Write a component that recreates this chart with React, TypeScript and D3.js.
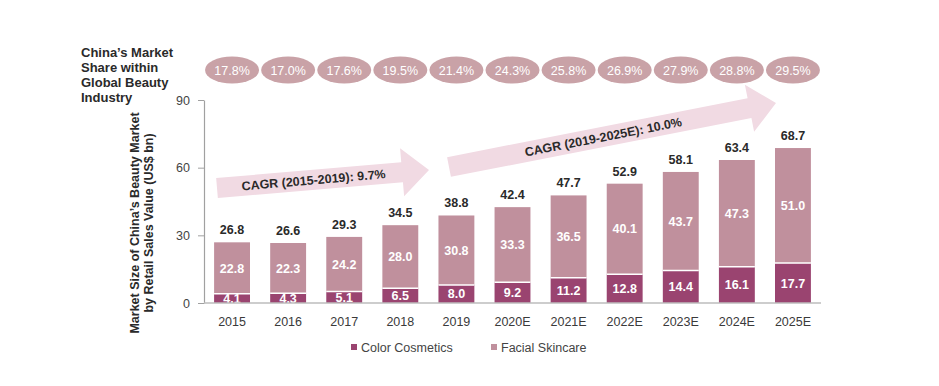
import { useEffect, useRef } from 'react'
import { axisLeft, scaleBand, scaleLinear, select } from 'd3'

const years = ['2015', '2016', '2017', '2018', '2019', '2020E', '2021E', '2022E', '2023E', '2024E', '2025E']
const colorCosmetics = [4.1, 4.3, 5.1, 6.5, 8.0, 9.2, 11.2, 12.8, 14.4, 16.1, 17.7]
const facialSkincare = [22.8, 22.3, 24.2, 28.0, 30.8, 33.3, 36.5, 40.1, 43.7, 47.3, 51.0]
const totals = [26.8, 26.6, 29.3, 34.5, 38.8, 42.4, 47.7, 52.9, 58.1, 63.4, 68.7]
const globalShare = ['17.8%', '17.0%', '17.6%', '19.5%', '21.4%', '24.3%', '25.8%', '26.9%', '27.9%', '28.8%', '29.5%']
const yTicks = [0, 30, 60, 90]
const cagrLabels = ['CAGR (2015-2019): 9.7%', 'CAGR (2019-2025E): 10.0%']

const DARK = '#9a4470'
const LIGHT = '#c0909d'
const PILL = '#c9a2a7'
const ARROW = '#f1dae3'
const FONT = 'Liberation Sans, Arial, Helvetica, sans-serif'

const width = 939
const height = 386
const margin = { left: 204, right: 118, top: 100, bottom: 83 }

export default function App() {
  const svgRef = useRef<SVGSVGElement | null>(null)

  useEffect(() => {
    document.body.style.margin = '0'
    if (!svgRef.current) return
    const svg = select(svgRef.current)
    svg.selectAll('*').remove()

    const x = scaleBand<string>()
      .domain(years)
      .range([margin.left, width - margin.right])
      .paddingInner(0.36)
      .paddingOuter(0.18)
    const y = scaleLinear().domain([0, 90]).range([height - margin.bottom, margin.top])

    // arrows
    const arrow = (x0: number, y0: number, x1: number, y1: number, label: string) => {
      const len = Math.hypot(x1 - x0, y1 - y0)
      const ang = (Math.atan2(y1 - y0, x1 - x0) * 180) / Math.PI
      const bw = 10
      const hw = 24
      const hl = 27
      const g = svg.append('g').attr('transform', `translate(${x0},${y0}) rotate(${ang})`)
      g.append('polygon')
        .attr(
          'points',
          [
            [0, -bw],
            [len - hl, -bw],
            [len - hl, -hw],
            [len, 0],
            [len - hl, hw],
            [len - hl, bw],
            [0, bw],
          ]
            .map(p => p.join(','))
            .join(' ')
        )
        .attr('fill', ARROW)
      g.append('text')
        .attr('x', (len - hl) / 2 + 4)
        .attr('y', 4.5)
        .attr('text-anchor', 'middle')
        .attr('font-family', FONT)
        .attr('font-weight', 'bold')
        .attr('font-size', 12.5)
        .attr('fill', '#2a2a2a')
        .text(label)
    }
    arrow(217, 188, 429, 170, cagrLabels[0])
    arrow(449, 167, 776, 103, cagrLabels[1])

    // y axis
    svg
      .append('g')
      .attr('transform', `translate(${margin.left},0)`)
      .call(axisLeft(y).tickValues(yTicks).tickSize(6).tickPadding(8).tickSizeOuter(0))
      .call(g => g.select('.domain').attr('stroke', '#a0a0a0').attr('stroke-width', 1.2))
      .call(g => g.selectAll('.tick line').attr('stroke', '#a0a0a0'))
      .call(g =>
        g
          .selectAll('.tick text')
          .attr('font-family', FONT)
          .attr('font-size', 12.5)
          .attr('fill', '#444')
      )

    // bars
    const groups = svg
      .append('g')
      .selectAll('g')
      .data(years)
      .join('g')
      .attr('transform', d => `translate(${x(d)},0)`)

    groups
      .append('rect')
      .attr('x', 0)
      .attr('width', x.bandwidth())
      .attr('y', (_, i) => y(colorCosmetics[i]))
      .attr('height', (_, i) => y(0) - y(colorCosmetics[i]))
      .attr('fill', DARK)
    groups
      .append('rect')
      .attr('x', 0)
      .attr('width', x.bandwidth())
      .attr('y', (_, i) => y(colorCosmetics[i] + facialSkincare[i]))
      .attr('height', (_, i) => y(colorCosmetics[i]) - y(colorCosmetics[i] + facialSkincare[i]))
      .attr('fill', LIGHT)
    groups
      .append('line')
      .attr('x1', 0)
      .attr('x2', x.bandwidth())
      .attr('y1', (_, i) => y(colorCosmetics[i]))
      .attr('y2', (_, i) => y(colorCosmetics[i]))
      .attr('stroke', '#fff')
      .attr('stroke-width', 1.5)

    const segText = (sel: any) =>
      sel
        .attr('x', x.bandwidth() / 2)
        .attr('text-anchor', 'middle')
        .attr('font-family', FONT)
        .attr('font-weight', 'bold')
        .attr('font-size', 12.5)
        .attr('fill', '#fff')

    groups
      .append('text')
      .call(segText)
      .attr('y', (_, i) => (y(0) + y(colorCosmetics[i])) / 2 + 4.5)
      .text((_, i) => colorCosmetics[i].toFixed(1))
    groups
      .append('text')
      .call(segText)
      .attr('y', (_, i) => (y(colorCosmetics[i]) + y(colorCosmetics[i] + facialSkincare[i])) / 2 + 4.5)
      .text((_, i) => facialSkincare[i].toFixed(1))
    groups
      .append('text')
      .attr('x', x.bandwidth() / 2)
      .attr('y', (_, i) => y(colorCosmetics[i] + facialSkincare[i]) - 8)
      .attr('text-anchor', 'middle')
      .attr('font-family', FONT)
      .attr('font-weight', 'bold')
      .attr('font-size', 12.5)
      .attr('fill', '#2a2a2a')
      .text((_, i) => totals[i].toFixed(1))

    // baseline
    svg
      .append('line')
      .attr('x1', margin.left)
      .attr('x2', width - margin.right)
      .attr('y1', y(0))
      .attr('y2', y(0))
      .attr('stroke', '#bdbdbd')
      .attr('stroke-width', 1.5)

    // x labels
    groups
      .append('text')
      .attr('x', x.bandwidth() / 2)
      .attr('y', y(0) + 23)
      .attr('text-anchor', 'middle')
      .attr('font-family', FONT)
      .attr('font-size', 12.5)
      .attr('fill', '#3a3a3a')
      .text(d => d)

    // share pills
    groups
      .append('ellipse')
      .attr('cx', x.bandwidth() / 2)
      .attr('cy', 70)
      .attr('rx', 27)
      .attr('ry', 13.5)
      .attr('fill', PILL)
    groups
      .append('text')
      .attr('x', x.bandwidth() / 2)
      .attr('y', 74.5)
      .attr('text-anchor', 'middle')
      .attr('font-family', FONT)
      .attr('font-size', 12.5)
      .attr('fill', '#fff')
      .text((_, i) => globalShare[i])

    // left title
    const title = svg
      .append('text')
      .attr('font-family', FONT)
      .attr('font-weight', 'bold')
      .attr('font-size', 13)
      .attr('fill', '#2a2a2a')
    ;['China\u2019s Market', 'Share within', 'Global Beauty', 'Industry'].forEach((t, i) =>
      title.append('tspan').attr('x', 81).attr('y', 57 + i * 15).text(t)
    )

    // y axis title
    const yt = svg
      .append('text')
      .attr('transform', `translate(0,223) rotate(-90)`)
      .attr('text-anchor', 'middle')
      .attr('font-family', FONT)
      .attr('font-weight', 'bold')
      .attr('font-size', 12.5)
      .attr('fill', '#2a2a2a')
    yt.append('tspan').attr('x', 0).attr('y', 139).text('Market Size of China\u2019s Beauty Market')
    yt.append('tspan').attr('x', 0).attr('y', 153).text('by Retail Sales Value (US$ bn)')

    // legend
    const legend = [
      { label: 'Color Cosmetics', color: DARK, x: 351 },
      { label: 'Facial Skincare', color: LIGHT, x: 491 },
    ]
    const lg = svg.append('g').selectAll('g').data(legend).join('g')
    lg.append('rect')
      .attr('x', d => d.x)
      .attr('y', 344)
      .attr('width', 6)
      .attr('height', 6)
      .attr('fill', d => d.color)
    lg.append('text')
      .attr('x', d => d.x + 10)
      .attr('y', 351.5)
      .attr('font-family', FONT)
      .attr('font-size', 12.5)
      .attr('fill', '#444')
      .text(d => d.label)
  }, [])

  return <svg ref={svgRef} width={width} height={height} style={{ display: 'block' }} />
}
